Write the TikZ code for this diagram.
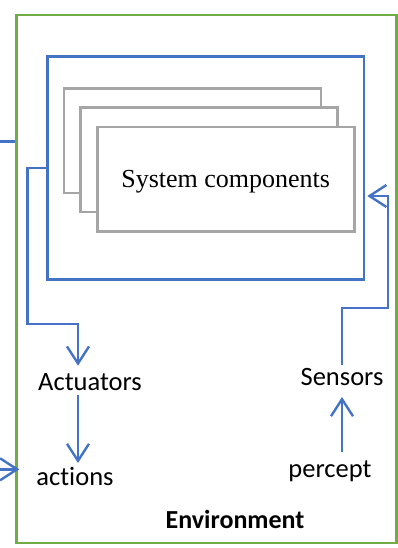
\documentclass[tikz,border=0pt]{standalone}
\usepackage{fontspec}
\setmainfont{Liberation Serif}
\setsansfont{Carlito}[Ligatures=NoCommon]
\usetikzlibrary{arrows.meta}
\definecolor{envgreen}{HTML}{70AD47}
\definecolor{agentblue}{HTML}{4472C4}
\definecolor{compgray}{HTML}{A5A5A5}
\tikzset{
  flow/.style={agentblue, line width=2.4pt, -{Straight Barb[length=17pt, width=22pt]}},
  link/.style={agentblue, line width=2.4pt},
  compbox/.style={draw=compgray, fill=white, line width=2.6pt, minimum width=257pt, minimum height=104pt, inner sep=0pt},
  lbl/.style={anchor=base, inner sep=0pt}
}
\begin{document}
\begin{tikzpicture}[x=1pt, y=-1pt, font=\sffamily\fontsize{26.5}{30}\selectfont]
        \useasboundingbox (0,0) rectangle (398,548);
        % boxes
        \node[draw=envgreen, line width=2.4pt, minimum width=380pt, minimum height=528pt] (env) at (206.5,279) {};
        \node[draw=agentblue, line width=2.4pt, minimum width=316.7pt, minimum height=222.6pt] (agent) at (205.7,168) {};
        \foreach \i in {0,1} {
          \node[compbox] (comp\i) at (192.3+\i*16.7, 140.8+\i*19) {};
        }
        \node[compbox, text depth=0pt, font=\rmfamily\fontsize{26}{30}\selectfont] (comp) at (225.7,179.2) {System components};
        % labels
        \node[lbl] (act) at (90,390.7) {Actuators};
        \node[lbl] (actn) at (75,485) {actions};
        \node[lbl] (sens) at (342,385) {Sensors};
        \node[lbl] (perc) at (330,477) {percept};
        \node[lbl, font=\sffamily\bfseries\fontsize{26}{30}\selectfont] (envlbl) at (235,528) {Environment};
        % outside links
        \coordinate (inA) at (0,141.7);
        \coordinate (inB) at (0,469.3);
        \draw[link] (inA) -- (inA -| env.west);
        \draw[flow] (inB) -- ([xshift=4pt]inB -| env.west);
        % agent to environment and back
        \draw[flow] (agent.west) -- ++(-18.5,0) -- ++(0,156) -| ([xshift=-12pt, yshift=25pt]act.base);
        \draw[flow] ([xshift=-12pt, yshift=-4pt]act.base) -- ([xshift=-12pt, yshift=22pt]act.base |- actn.base);
        \draw[flow] ([yshift=25pt]perc.base -| sens.base) -- ([yshift=-12pt]sens.base);
        \draw[link] ([yshift=20pt]sens.base) -- ++(0,-57) -- ++(46,0) -- ++(0,-112);
        \draw[flow] (389,196) -- ([xshift=2pt]agent.east |- 0,196);
      \end{tikzpicture}
\end{document}
